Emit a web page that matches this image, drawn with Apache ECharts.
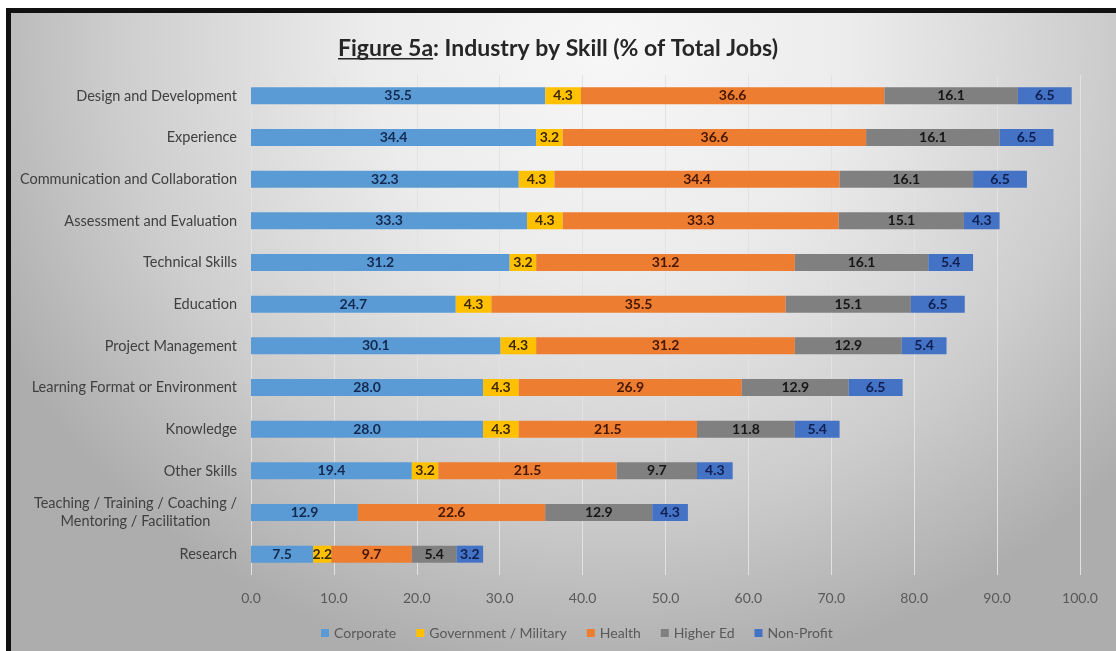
<!DOCTYPE html>
<html>
<head>
<meta charset="utf-8">
<script src="https://cdn.jsdelivr.net/npm/echarts@6/dist/echarts.min.js"></script>
<style>
  body { margin: 0; background: #fff; }
  /* the framed gradient panel behind the chart */
  #frame {
    position: absolute; left: 6px; top: 8px; right: 0; bottom: 0;
    border-left: 5px solid #111; border-top: 5px solid #111;
    background: radial-gradient(ellipse 62% 100% at 54% 5%, #f7f7f7 0%, #ececec 35%, #cdcdcd 72%, #adadad 100%);
  }
  #main { position: absolute; left: 0; top: 0; width: 1116px; height: 651px; }
</style>
</head>
<body>
<div id="frame"></div>
<div id="main"></div>
<script>
// 数据
var skills = [
  "Design and Development",
  "Experience",
  "Communication and Collaboration",
  "Assessment and Evaluation",
  "Technical Skills",
  "Education",
  "Project Management",
  "Learning Format or Environment",
  "Knowledge",
  "Other Skills",
  "Teaching / Training / Coaching /\nMentoring / Facilitation",
  "Research"
];
var corporate  = [35.5, 34.4, 32.3, 33.3, 31.2, 24.7, 30.1, 28.0, 28.0, 19.4, 12.9, 7.5];
var government = [4.3, 3.2, 4.3, 4.3, 3.2, 4.3, 4.3, 4.3, 4.3, 3.2, null, 2.2];
var health     = [36.6, 36.6, 34.4, 33.3, 31.2, 35.5, 31.2, 26.9, 21.5, 21.5, 22.6, 9.7];
var higherEd   = [16.1, 16.1, 16.1, 15.1, 16.1, 15.1, 12.9, 12.9, 11.8, 9.7, 12.9, 5.4];
var nonProfit  = [6.5, 6.5, 6.5, 4.3, 5.4, 6.5, 5.4, 6.5, 5.4, 4.3, 4.3, 3.2];

var FONT = "Lato";
var TITLE_SIZE = 23;

function makeSeries(name, data, color, labelColor) {
  return {
    name: name,
    type: "bar",
    stack: "total",
    barWidth: 17,
    data: data,
    itemStyle: { color: color },
    label: {
      show: true,
      position: "inside",
      fontFamily: FONT,
      fontWeight: "bold",
      fontSize: 14,
      color: labelColor,
      formatter: function (p) {
        return p.value == null ? "" : Number(p.value).toFixed(1);
      }
    },
    emphasis: { disabled: true }
  };
}

var myChart = echarts.init(document.getElementById("main"));
myChart.setOption({
  animation: false,
  title: {
    text: "Figure 5a: Industry by Skill (% of Total Jobs)",
    left: "center",
    top: 32,
    textStyle: { fontFamily: FONT, fontSize: TITLE_SIZE, fontWeight: "bold", color: "#262626" }
  },
  legend: {
    left: 316,
    top: 621,
    icon: "rect",
    itemWidth: 8,
    itemHeight: 8,
    itemGap: 20,
    textStyle: { fontFamily: FONT, fontSize: 14, color: "#595959" },
    data: ["Corporate", "Government / Military", "Health", "Higher Ed", "Non-Profit"]
  },
  grid: { left: 251, right: 36, top: 75, bottom: 76, containLabel: false },
  xAxis: {
    type: "value",
    min: 0,
    max: 100,
    interval: 10,
    axisLine: { show: false },
    axisTick: { show: false },
    splitLine: { show: true, lineStyle: { color: "#e2e2e2", width: 1 } },
    axisLabel: {
      margin: 16,
      fontFamily: FONT,
      fontSize: 14,
      color: "#595959",
      formatter: function (v) { return v.toFixed(1); }
    }
  },
  yAxis: {
    type: "category",
    inverse: true,
    data: skills,
    axisLine: { show: false },
    axisTick: { show: false },
    axisLabel: {
      margin: 14,
      fontFamily: FONT,
      fontSize: 14.5,
      color: "#404040",
      lineHeight: 18,
      formatter: function (v) {
        if (v.indexOf("\n") < 0) return v;
        return v.split("\n").map(function (l) { return "{c|" + l + "}"; }).join("\n");
      },
      rich: {
        c: { align: "center", fontFamily: FONT, fontSize: 14.5, color: "#404040", lineHeight: 18 }
      }
    }
  },
  series: [
    makeSeries("Corporate", corporate, "#5b9bd5", "#13294f"),
    makeSeries("Government / Military", government, "#ffc000", "#3a2600"),
    makeSeries("Health", health, "#ed7d31", "#451600"),
    makeSeries("Higher Ed", higherEd, "#808080", "#161616"),
    makeSeries("Non-Profit", nonProfit, "#4472c4", "#0f1f50")
  ],
  graphic: [
    // underline under "Figure 5a"
    {
      type: "rect",
      id: "underline",
      shape: { x: 0, y: 0, width: 1, height: 1.6 },
      style: { fill: "#262626" },
      silent: true
    }
  ]
});

// 标题下划线：按实际文字宽度放置
(function () {
  var titleText = "Figure 5a: Industry by Skill (% of Total Jobs)";
  var ctx = document.createElement("canvas").getContext("2d");
  ctx.font = "bold " + TITLE_SIZE + "px " + FONT;
  var full = ctx.measureText(titleText).width;
  var part = ctx.measureText("Figure 5a").width;
  var x0 = 1116 / 2 - full / 2;
  myChart.setOption({
    graphic: [{ id: "underline", shape: { x: x0, y: 58, width: part, height: 1.6 } }]
  });
})();
</script>
</body>
</html>
